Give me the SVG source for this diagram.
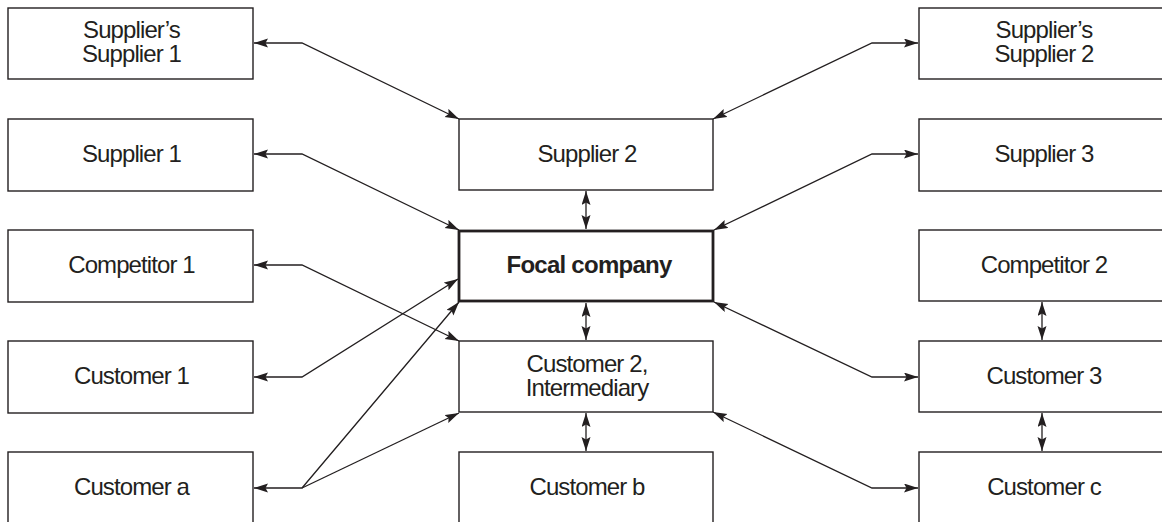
<svg xmlns="http://www.w3.org/2000/svg" width="1162" height="522" viewBox="0 0 1162 522">
  <style>
    .box { fill: #ffffff; stroke: #231f20; stroke-width: 1.4; }
    .focal { fill: #ffffff; stroke: #231f20; stroke-width: 2.8; }
    .lbl { font-family: "Liberation Sans", Arial, sans-serif; font-size: 24px; letter-spacing: -0.9px; fill: #231f20; text-anchor: middle; }
    .bold { font-weight: bold; letter-spacing: -0.75px; }
    .link { fill: none; stroke: #231f20; stroke-width: 1.3; marker-start: url(#head); marker-end: url(#head); }
  </style>
  <defs>
    <marker id="head" markerUnits="userSpaceOnUse" markerWidth="15" markerHeight="10" refX="14" refY="4.5" orient="auto-start-reverse">
      <path d="M0,0 L14,4.5 L0,9 L2.5,4.5 z" fill="#231f20"/>
    </marker>
  </defs>
  <rect width="1162" height="522" fill="#ffffff"/>

  <!-- left column -->
  <g id="suppliers-supplier-1"><rect class="box" x="8" y="8" width="245" height="71"/><text class="lbl" x="131.5" y="38">Supplier’s</text><text class="lbl" x="131.5" y="62">Supplier 1</text></g>
  <g id="supplier-1"><rect class="box" x="8" y="119" width="245" height="72"/><text class="lbl" x="131.5" y="162">Supplier 1</text></g>
  <g id="competitor-1"><rect class="box" x="8" y="230" width="245" height="72"/><text class="lbl" x="131.5" y="273">Competitor 1</text></g>
  <g id="customer-1"><rect class="box" x="8" y="341" width="245" height="72"/><text class="lbl" x="131.5" y="384">Customer 1</text></g>
  <g id="customer-a"><rect class="box" x="8" y="452" width="245" height="80"/><text class="lbl" x="131.5" y="495">Customer a</text></g>

  <!-- centre column -->
  <g id="supplier-2"><rect class="box" x="459" y="119" width="254" height="71"/><text class="lbl" x="587" y="162">Supplier 2</text></g>
  <g id="focal-company"><rect class="focal" x="459" y="231" width="254" height="70"/><text class="lbl bold" x="589" y="273">Focal company</text></g>
  <g id="customer-2"><rect class="box" x="459" y="341" width="254" height="71"/><text class="lbl" x="587" y="372">Customer 2,</text><text class="lbl" x="587" y="396">Intermediary</text></g>
  <g id="customer-b"><rect class="box" x="459" y="452" width="254" height="80"/><text class="lbl" x="587" y="495">Customer b</text></g>

  <!-- right column -->
  <g id="suppliers-supplier-2"><rect class="box" x="919" y="8" width="250" height="71"/><text class="lbl" x="1044" y="38">Supplier’s</text><text class="lbl" x="1044" y="62">Supplier 2</text></g>
  <g id="supplier-3"><rect class="box" x="919" y="119" width="250" height="72"/><text class="lbl" x="1044" y="162">Supplier 3</text></g>
  <g id="competitor-2"><rect class="box" x="919" y="230" width="250" height="71"/><text class="lbl" x="1044" y="273">Competitor 2</text></g>
  <g id="customer-3"><rect class="box" x="919" y="341" width="250" height="71"/><text class="lbl" x="1044" y="384">Customer 3</text></g>
  <g id="customer-c"><rect class="box" x="919" y="452" width="250" height="80"/><text class="lbl" x="1044" y="495">Customer c</text></g>

  <!-- connectors -->
  <g id="connectors">
    <polyline class="link" points="254,43 302,43 459,119"/>
    <polyline class="link" points="254,154 302,154 459,230"/>
    <polyline class="link" points="254,265 302,265 459,341"/>
    <polyline class="link" points="254,377 302,377 458,279"/>
    <polyline class="link" points="254,488 302,488 459,302"/>
    <polyline class="link" points="302,488 459,413" style="marker-start:none"/>

    <polyline class="link" points="713,119 872,43 918,43"/>
    <polyline class="link" points="714,230 872,154 918,154"/>
    <polyline class="link" points="714,302 872,377 918,377"/>
    <polyline class="link" points="713,412 872,488 918,488"/>

    <line class="link" x1="586" y1="191" x2="586" y2="229"/>
    <line class="link" x1="586" y1="303" x2="586" y2="340"/>
    <line class="link" x1="586" y1="413" x2="586" y2="451"/>
    <line class="link" x1="1042" y1="302" x2="1042" y2="340"/>
    <line class="link" x1="1042" y1="413" x2="1042" y2="451"/>
  </g>
</svg>
